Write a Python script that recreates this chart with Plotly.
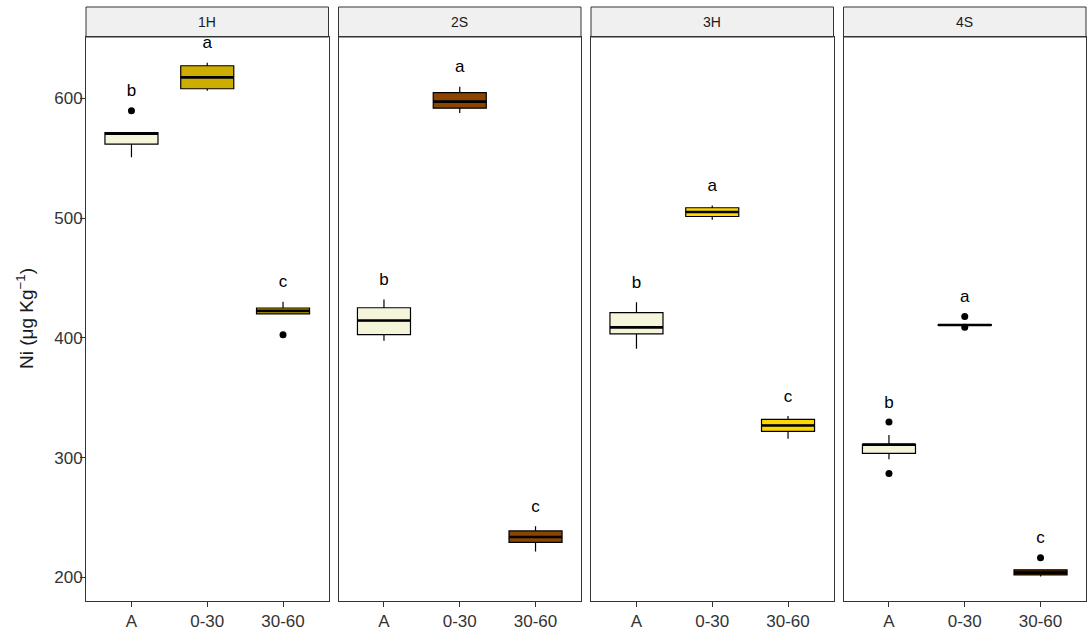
import plotly.graph_objects as go

# ---------------- data ----------------
panels = ["1H", "2S", "3H", "4S"]
depths = ["A", "0-30", "30-60"]

q1 = {
    "1H": [561.8, 608.0, 419.9],
    "2S": [402.6, 591.8, 229.2],
    "3H": [403.3, 501.3, 321.8],
    "4S": [303.5, 410.4, 201.9],
}
median = {
    "1H": [570.5, 617.5, 422.5],
    "2S": [414.4, 597.2, 233.6],
    "3H": [408.7, 505.0, 326.8],
    "4S": [310.8, 410.7, 203.9],
}
q3 = {
    "1H": [571.3, 627.2, 424.9],
    "2S": [425.1, 604.7, 238.7],
    "3H": [421.1, 508.6, 331.9],
    "4S": [311.1, 411.0, 206.3],
}
lower_whisker = {
    "1H": [550.7, 606.3, 419.9],
    "2S": [397.6, 587.8, 221.5],
    "3H": [390.8, 498.5, 315.7],
    "4S": [298.5, 410.4, 200.6],
}
upper_whisker = {
    "1H": [571.3, 629.7, 430.1],
    "2S": [431.9, 609.7, 242.7],
    "3H": [429.6, 510.4, 334.6],
    "4S": [318.8, 411.0, 206.3],
}
outliers = {
    "1H": [[589.6], [], [402.6]],
    "2S": [[], [], []],
    "3H": [[], [], []],
    "4S": [[329.6, 286.6], [417.7, 408.8], [216.4]],
}
letters = {
    "1H": ["b", "a", "c"],
    "2S": ["b", "a", "c"],
    "3H": ["b", "a", "c"],
    "4S": ["b", "a", "c"],
}
letter_offset = 15.5

fill_A = "#F5F5DC"
fill_depth = {"1H": "#CDAD00", "2S": "#8B4500", "3H": "#FFD700", "4S": "#4A2600"}

y_ticks = [200, 300, 400, 500, 600]
y_range = [180.2, 651.2]

# ---------------- layout geometry ----------------
W, H = 1087, 632
panel_left = [86, 338.5, 591, 843.5]
panel_w = 242.5
panel_top_px, panel_bot_px = 37, 601
strip_top_px = 7
box_w = 0.7

FONT = "Liberation Sans, Arial, sans-serif"
AX = "#333333"

fig = go.Figure()

for i, p in enumerate(panels):
    xa = "x" if i == 0 else f"x{i+1}"
    ya = "y" if i == 0 else f"y{i+1}"
    for j, d in enumerate(depths):
        color = fill_A if j == 0 else fill_depth[p]
        fig.add_trace(go.Box(
            x=[j], q1=[q1[p][j]], median=[median[p][j]], q3=[q3[p][j]],
            lowerfence=[lower_whisker[p][j]], upperfence=[upper_whisker[p][j]],
            fillcolor=color, line=dict(color="#000000", width=1.2),
            whiskerwidth=0, width=box_w, boxpoints=False,
            xaxis=xa, yaxis=ya, showlegend=False, hoverinfo="skip",
        ))
        # thicker median line, as in ggplot
        fig.add_trace(go.Scatter(
            x=[j - box_w / 2, j + box_w / 2], y=[median[p][j]] * 2,
            mode="lines", line=dict(color="#000000", width=2.6),
            xaxis=xa, yaxis=ya, showlegend=False, hoverinfo="skip",
        ))
        if outliers[p][j]:
            fig.add_trace(go.Scatter(
                x=[j] * len(outliers[p][j]), y=outliers[p][j], mode="markers",
                marker=dict(color="#000000", size=7),
                xaxis=xa, yaxis=ya, showlegend=False, hoverinfo="skip",
            ))
    tops = [max([upper_whisker[p][j]] + outliers[p][j]) + letter_offset for j in range(3)]
    fig.add_trace(go.Scatter(
        x=list(range(3)), y=tops, mode="text", text=letters[p],
        textfont=dict(family=FONT, size=17, color="#000000"),
        textposition="middle center",
        xaxis=xa, yaxis=ya, showlegend=False, hoverinfo="skip",
    ))

y_dom = [(H - panel_bot_px) / H, (H - panel_top_px) / H]
strip_dom = [(H - panel_top_px) / H, (H - strip_top_px) / H]

layout = dict(
    width=W, height=H,
    margin=dict(l=0, r=0, t=0, b=0),
    paper_bgcolor="white", plot_bgcolor="white",
    font=dict(family=FONT, color=AX),
    shapes=[], annotations=[],
)

for i, p in enumerate(panels):
    xk = "xaxis" if i == 0 else f"xaxis{i+1}"
    yk = "yaxis" if i == 0 else f"yaxis{i+1}"
    x0 = panel_left[i] / W
    x1 = (panel_left[i] + panel_w) / W
    layout[xk] = dict(
        domain=[x0, x1], anchor="y" if i == 0 else f"y{i+1}",
        tickvals=list(range(3)), ticktext=depths,
        range=[-0.6, 2.6], showgrid=False, zeroline=False,
        showline=True, mirror=True, linecolor=AX, linewidth=1,
        ticks="outside", ticklen=5, tickwidth=1, tickcolor=AX,
        tickfont=dict(family=FONT, size=17, color=AX),
        fixedrange=True,
    )
    layout[yk] = dict(
        domain=y_dom, anchor="x" if i == 0 else f"x{i+1}",
        range=y_range, showgrid=False, zeroline=False,
        showline=True, mirror=True, linecolor=AX, linewidth=1,
        tickvals=y_ticks, ticks="outside" if i == 0 else "",
        ticklen=5, tickwidth=1, tickcolor=AX,
        showticklabels=(i == 0),
        tickfont=dict(family=FONT, size=17, color=AX),
        fixedrange=True,
    )
    if i == 0:
        layout[yk]["ticklabelstandoff"] = -6
    layout["shapes"].append(dict(
        type="rect", xref="paper", yref="paper",
        x0=x0, x1=x1, y0=strip_dom[0], y1=strip_dom[1],
        fillcolor="#F0F0F0", line=dict(color=AX, width=1), layer="below",
    ))
    layout["annotations"].append(dict(
        text=p, xref="paper", yref="paper",
        x=(x0 + x1) / 2, y=(strip_dom[0] + strip_dom[1]) / 2,
        showarrow=False, xanchor="center", yanchor="middle",
        font=dict(family=FONT, size=14, color="#1a1a1a"),
    ))

layout["annotations"].append(dict(
    text="Ni (μg Kg<sup>−1</sup>)", xref="paper", yref="paper",
    x=25 / W, y=(H - (panel_top_px + panel_bot_px) / 2) / H,
    textangle=-90, showarrow=False, xanchor="center", yanchor="middle",
    font=dict(family=FONT, size=19, color="#1a1a1a"),
))

fig.update_layout(**layout)
fig.write_html(
    "out.html",
    config={"displayModeBar": False},
    post_script="document.body.style.margin='0px';document.body.style.overflow='hidden';",
)
